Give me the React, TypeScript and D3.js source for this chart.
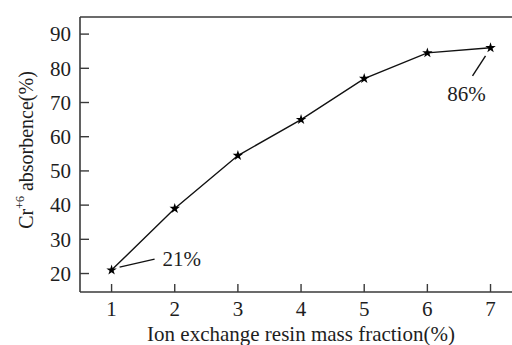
import * as d3 from "d3";

const fractions = [1, 2, 3, 4, 5, 6, 7];
const absorbence = [21, 39, 54.5, 65, 77, 84.5, 86];
const yTicks = [20, 30, 40, 50, 60, 70, 80, 90];

const W = 512;
const H = 345;
const left = 80;
const top = 17;
const bottom = 292;
const font = "'Liberation Serif', 'Times New Roman', serif";

export default function App() {
  const x = d3.scaleLinear().domain([0.5, 7.34]).range([left, W]);
  const y = d3.scaleLinear().domain([14.6, 95]).range([bottom, top]);
  const line = d3
    .line<number>()
    .x((_, i) => x(fractions[i]))
    .y((d) => y(d));
  const star = d3.symbol().type(d3.symbolStar).size(34)();
  const axisColor = "#3a3a3a";
  const textColor = "#1e1e1e";

  // annotation anchors derived from first/last points
  const p1 = [x(fractions[0]), y(absorbence[0])];
  const p7 = [x(fractions[6]), y(absorbence[6])];

  return (
    <svg width={W} height={H} style={{ position: "absolute", left: 0, top: 0, background: "#fff" }} fontFamily={font}>
      {/* frame: left, bottom and top lines */}
      <line x1={left} x2={W} y1={top} y2={top} stroke={axisColor} strokeWidth={1.6} />
      <line x1={left} x2={left} y1={top} y2={bottom} stroke={axisColor} strokeWidth={1.6} />
      <line x1={left} x2={W} y1={bottom} y2={bottom} stroke={axisColor} strokeWidth={1.6} />

      {yTicks.map((t) => (
        <g key={t}>
          <line x1={left} x2={left + 9} y1={y(t)} y2={y(t)} stroke={axisColor} strokeWidth={1.4} />
          <text x={left - 9} y={y(t)} dy="0.35em" textAnchor="end" fontSize={21} fill={textColor}>
            {t}
          </text>
        </g>
      ))}
      {fractions.map((t) => (
        <g key={t}>
          <line x1={x(t)} x2={x(t)} y1={bottom} y2={bottom - 8} stroke={axisColor} strokeWidth={1.4} />
          <text x={x(t)} y={bottom + 24} textAnchor="middle" fontSize={21} fill={textColor}>
            {t}
          </text>
        </g>
      ))}

      <path d={line(absorbence) ?? ""} fill="none" stroke="#111" strokeWidth={1.4} />
      {absorbence.map((v, i) => (
        <path key={i} d={star} transform={`translate(${x(fractions[i])},${y(v)})`} fill="#000" />
      ))}

      {/* annotations */}
      <line x1={p1[0] + 8} y1={p1[1] - 3} x2={p1[0] + 43} y2={p1[1] - 11} stroke="#111" strokeWidth={1.4} />
      <text x={p1[0] + 51} y={p1[1] - 4} fontSize={21} fill={textColor}>21%</text>
      <line x1={p7[0] - 5} y1={p7[1] + 8} x2={p7[0] - 18} y2={p7[1] + 28} stroke="#111" strokeWidth={1.4} />
      <text x={p7[0] - 24} y={p7[1] + 53} textAnchor="middle" fontSize={21} fill={textColor}>86%</text>

      <text x={(left + W) / 2 + 5} y={341} textAnchor="middle" fontSize={21} fill={textColor}>
        Ion exchange resin mass fraction(%)
      </text>
      <text transform={`translate(33,150) rotate(-90)`} textAnchor="middle" fontSize={20} fill={textColor}>
        Cr<tspan fontSize={12} dy={-9}>+6</tspan>
        <tspan dy={9}> absorbence(%)</tspan>
      </text>
    </svg>
  );
}
